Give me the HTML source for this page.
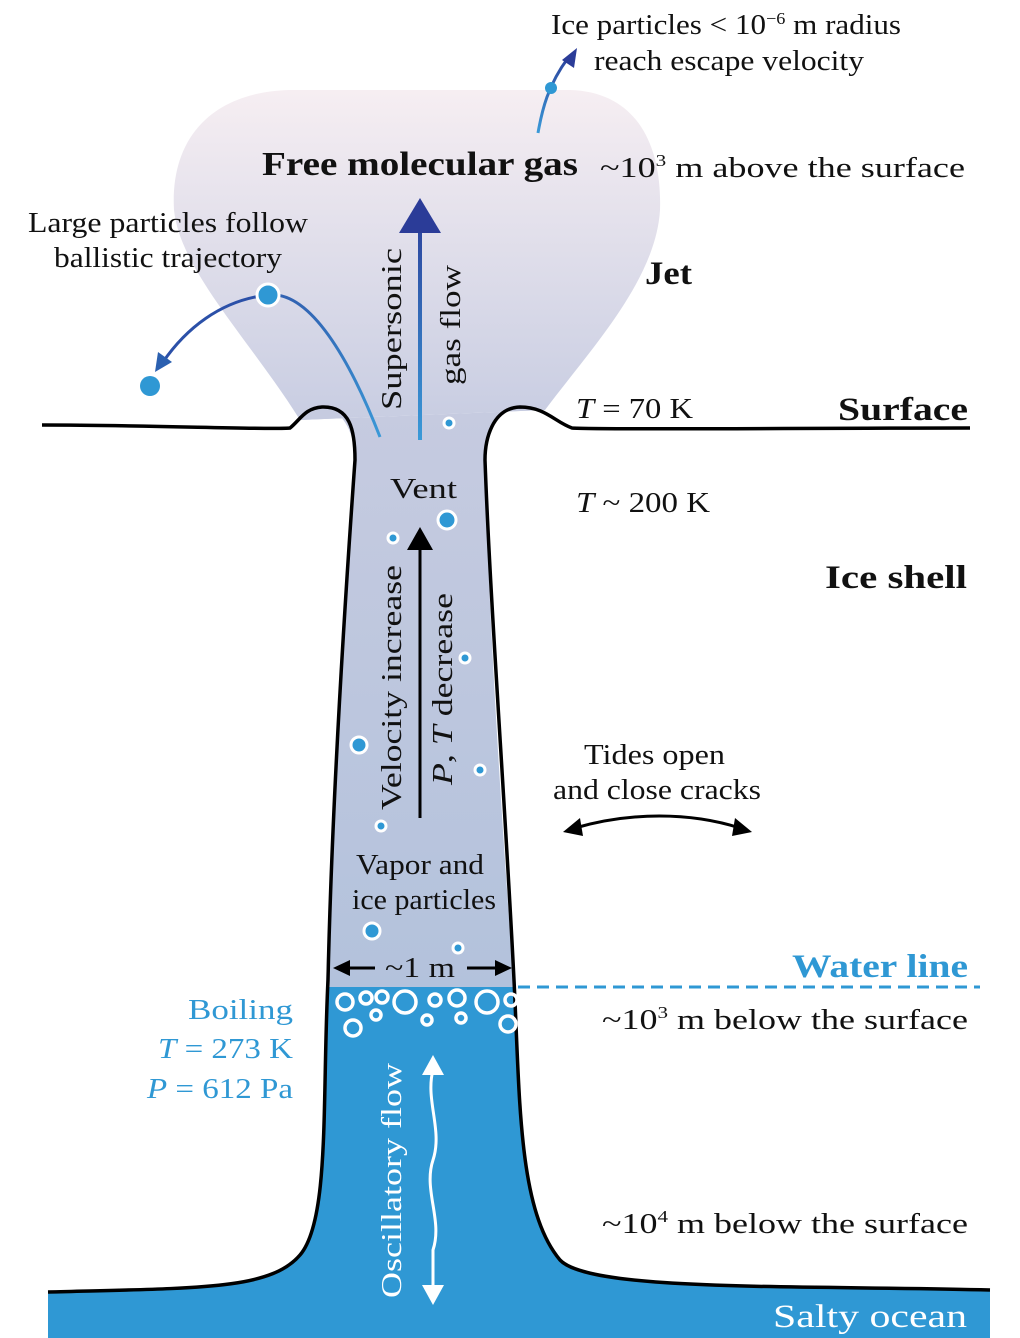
<!DOCTYPE html>
<html><head><meta charset="utf-8"><style>
body{margin:0;background:#fff}
svg{display:block}
text{font-family:"Liberation Serif",serif;}
</style></head><body>
<svg width="1020" height="1338" viewBox="0 0 1020 1338" xmlns="http://www.w3.org/2000/svg">
<defs>
<linearGradient id="pl" x1="0" y1="0" x2="0" y2="1">
<stop offset="0" stop-color="#f6eef2"/><stop offset="1" stop-color="#c8cde2"/>
</linearGradient>
<linearGradient id="cd" x1="0" y1="0" x2="0" y2="1">
<stop offset="0" stop-color="#c6cbe0"/><stop offset="1" stop-color="#b3c2dc"/>
</linearGradient>
<linearGradient id="ar" gradientUnits="userSpaceOnUse" x1="0" y1="440" x2="0" y2="200">
<stop offset="0" stop-color="#3a9ad8"/><stop offset="1" stop-color="#2b3c98"/>
</linearGradient>
<linearGradient id="ar2" gradientUnits="userSpaceOnUse" x1="0" y1="133" x2="0" y2="50">
<stop offset="0" stop-color="#3a9ad8"/><stop offset="1" stop-color="#2b3c98"/>
</linearGradient>
</defs>
<path d="M300,420 C250,340 180,270 174,210 C170,140 210,92 290,90 L570,90 C640,92 662,150 660,210 C656,280 590,350 545,410 Z" fill="url(#pl)"/>
<path d="M300,420 L545,410 L520,407 C490,410 485,440 485,460 C488,600 500,800 514,987 L326,987 C332,800 345,600 355,460 C355,430 340,407 320,407 Z" fill="url(#cd)"/>
<path d="M328,980 L514,980 C520,1100 518,1210 560,1260 C590,1292 800,1285 990,1290 L990,1338 L48,1338 L48,1292 C200,1288 270,1290 300,1255 C330,1220 322,1100 328,980 Z" fill="#2f98d4"/>
<rect x="328" y="980" width="186" height="7" fill="#b3c2dc"/>
<path d="M42,425 C150,425 270,430 290,428 C300,420 305,408 322,407 C350,406 355,430 355,460 C345,600 332,800 328,980 C322,1100 330,1220 300,1255 C270,1290 200,1288 48,1292" fill="none" stroke="#000" stroke-width="3.5"/>
<path d="M970,428 C800,428 600,430 572,428 C555,422 545,407 520,407 C492,408 485,440 485,460 C490,600 505,800 514,980 C520,1100 518,1210 560,1260 C590,1292 800,1285 990,1290" fill="none" stroke="#000" stroke-width="3.5"/>
<line x1="518" y1="987" x2="980" y2="987" stroke="#2f98d4" stroke-width="3" stroke-dasharray="12,7"/>
<line x1="420" y1="440" x2="420" y2="230" stroke="url(#ar)" stroke-width="4"/>
<path d="M399,233 L420,198 L441,233 Z" fill="#2b3c98"/>
<path d="M380,437 C350,360 310,290 268,295" fill="none" stroke="url(#ar)" stroke-width="3"/>
<path d="M268,295 C220,300 185,330 163,362" fill="none" stroke="#2b50a8" stroke-width="3"/>
<path d="M155,372 L158,352 L172,362 Z" fill="#2b60b0"/>
<circle cx="268" cy="295" r="11" fill="#2f98d4" stroke="#fff" stroke-width="3"/>
<circle cx="150" cy="386" r="10" fill="#2f98d4"/>
<path d="M538,133 C542,110 548,85 568,58" fill="none" stroke="url(#ar2)" stroke-width="3"/>
<path d="M577,48 L574,68 L562,60 Z" fill="#2b3c98"/>
<circle cx="551" cy="88" r="6" fill="#2f98d4"/>
<line x1="420" y1="818" x2="420" y2="548" stroke="#000" stroke-width="3"/>
<path d="M407,550 L420,527 L433,550 Z" fill="#000"/>
<g fill="#2f98d4" stroke="#fff" stroke-width="3">
<circle cx="449" cy="423" r="5"/><circle cx="447" cy="520" r="9"/><circle cx="393" cy="538" r="5"/>
<circle cx="465" cy="658" r="5"/><circle cx="359" cy="745" r="8"/><circle cx="480" cy="770" r="5"/>
<circle cx="381" cy="826" r="5"/><circle cx="372" cy="931" r="8"/><circle cx="458" cy="948" r="5"/>
</g>
<g fill="none" stroke="#fff" stroke-width="3.5">
<circle cx="345" cy="1002" r="8"/><circle cx="366" cy="998" r="6"/><circle cx="382" cy="997" r="6"/><circle cx="405" cy="1002" r="11"/>
<circle cx="435" cy="1000" r="6"/><circle cx="457" cy="998" r="8"/><circle cx="487" cy="1002" r="11"/><circle cx="511" cy="1000" r="6"/>
<circle cx="353" cy="1028" r="8"/><circle cx="376" cy="1015" r="5"/><circle cx="427" cy="1020" r="5"/><circle cx="461" cy="1018" r="5"/><circle cx="508" cy="1024" r="8"/>
</g>
<line x1="345" y1="968" x2="375" y2="968" stroke="#000" stroke-width="3"/>
<path d="M333,968 L350,960 L350,976 Z" fill="#000"/>
<line x1="467" y1="968" x2="500" y2="968" stroke="#000" stroke-width="3"/>
<path d="M512,968 L495,960 L495,976 Z" fill="#000"/>
<path d="M433,1070 C425,1100 443,1130 433,1160 C423,1190 443,1220 433,1250 L433,1285" fill="none" stroke="#fff" stroke-width="3"/>
<path d="M422,1075 L433,1055 L444,1075 Z" fill="#fff"/>
<path d="M422,1285 L433,1305 L444,1285 Z" fill="#fff"/>
<path d="M575,828 C630,812 690,812 740,828" fill="none" stroke="#000" stroke-width="3"/>
<path d="M563,832 L580,818 L583,836 Z" fill="#000"/>
<path d="M752,832 L735,818 L732,836 Z" fill="#000"/>
<g font-size="29" fill="#111">
<text x="551" y="34" textLength="350" lengthAdjust="spacingAndGlyphs">Ice particles &lt; 10<tspan font-size="17" dy="-10">−6</tspan><tspan dy="10"> m radius</tspan></text>
<text x="594" y="70" textLength="270" lengthAdjust="spacingAndGlyphs">reach escape velocity</text>
<text x="262" y="175" font-weight="bold" font-size="34" textLength="316" lengthAdjust="spacingAndGlyphs">Free molecular gas</text>
<text x="600" y="177" textLength="365" lengthAdjust="spacingAndGlyphs">~10<tspan font-size="17" dy="-11">3</tspan><tspan dy="11"> m above the surface</tspan></text>
<text x="28" y="232" textLength="280" lengthAdjust="spacingAndGlyphs">Large particles follow</text>
<text x="54" y="267" textLength="228" lengthAdjust="spacingAndGlyphs">ballistic trajectory</text>
<text x="645" y="284" font-weight="bold" font-size="33" textLength="47" lengthAdjust="spacingAndGlyphs">Jet</text>
<text x="576" y="418" textLength="117" lengthAdjust="spacingAndGlyphs"><tspan font-style="italic">T</tspan> = 70 K</text>
<text x="838" y="420" font-weight="bold" font-size="33" textLength="130" lengthAdjust="spacingAndGlyphs">Surface</text>
<text x="390" y="498" textLength="67" lengthAdjust="spacingAndGlyphs">Vent</text>
<text x="576" y="512" textLength="134" lengthAdjust="spacingAndGlyphs"><tspan font-style="italic">T</tspan> ~ 200 K</text>
<text x="825" y="588" font-weight="bold" font-size="33" textLength="142" lengthAdjust="spacingAndGlyphs">Ice shell</text>
<text x="584" y="764" textLength="141" lengthAdjust="spacingAndGlyphs">Tides open</text>
<text x="553" y="799" textLength="208" lengthAdjust="spacingAndGlyphs">and close cracks</text>
<text x="356" y="874" textLength="128" lengthAdjust="spacingAndGlyphs">Vapor and</text>
<text x="352" y="909" textLength="144" lengthAdjust="spacingAndGlyphs">ice particles</text>
<text x="385" y="977" textLength="70" lengthAdjust="spacingAndGlyphs">~1 m</text>
<text x="602" y="1029" textLength="366" lengthAdjust="spacingAndGlyphs">~10<tspan font-size="17" dy="-11">3</tspan><tspan dy="11"> m below the surface</tspan></text>
<text x="602" y="1233" textLength="366" lengthAdjust="spacingAndGlyphs">~10<tspan font-size="17" dy="-11">4</tspan><tspan dy="11"> m below the surface</tspan></text>
<text x="401" y="410" transform="rotate(-90 401 410)" textLength="162" lengthAdjust="spacingAndGlyphs">Supersonic</text>
<text x="460" y="385" transform="rotate(-90 460 385)" textLength="120" lengthAdjust="spacingAndGlyphs">gas flow</text>
<text x="401" y="810" transform="rotate(-90 401 810)" textLength="245" lengthAdjust="spacingAndGlyphs">Velocity increase</text>
<text x="452" y="785" transform="rotate(-90 452 785)" textLength="192" lengthAdjust="spacingAndGlyphs"><tspan font-style="italic">P</tspan>, <tspan font-style="italic">T</tspan> decrease</text>
</g>
<g font-size="29" fill="#2f98d4">
<text x="792" y="977" font-weight="bold" font-size="33" textLength="176" lengthAdjust="spacingAndGlyphs">Water line</text>
<text x="188" y="1019" textLength="105" lengthAdjust="spacingAndGlyphs">Boiling</text>
<text x="158" y="1058" textLength="135" lengthAdjust="spacingAndGlyphs"><tspan font-style="italic">T</tspan> = 273 K</text>
<text x="147" y="1098" textLength="146" lengthAdjust="spacingAndGlyphs"><tspan font-style="italic">P</tspan> = 612 Pa</text>
</g>
<text x="401" y="1298" transform="rotate(-90 401 1298)" font-size="29" fill="#fff" textLength="235" lengthAdjust="spacingAndGlyphs">Oscillatory flow</text>
<text x="773" y="1327" font-size="33" fill="#fff" textLength="194" lengthAdjust="spacingAndGlyphs">Salty ocean</text>
</svg>
</body></html>
